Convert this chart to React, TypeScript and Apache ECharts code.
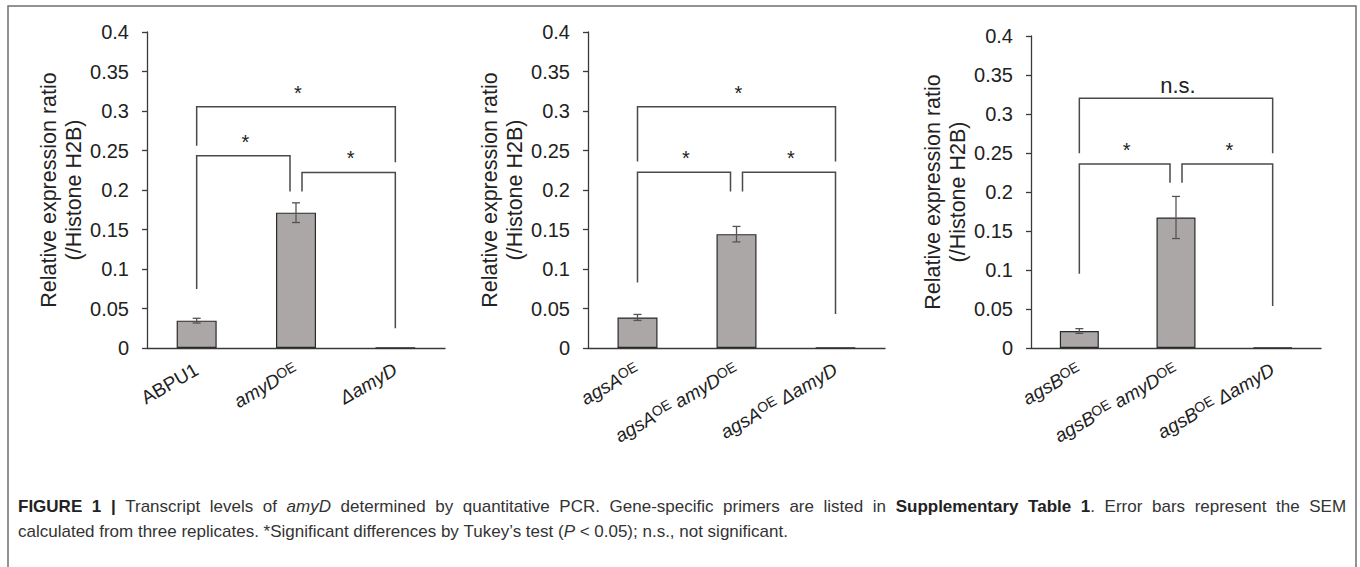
import React, { useEffect, useRef } from "react";
import * as echarts from "echarts";

// ---------- data ----------
const categoriesA = ["ABPU1", "amyD^OE", "ΔamyD"];
const categoriesB = ["agsA^OE", "agsA^OE amyD^OE", "agsA^OE ΔamyD"];
const categoriesC = ["agsB^OE", "agsB^OE amyD^OE", "agsB^OE ΔamyD"];

const valuesA = [0.0346, 0.1713, 0.0005];
const valuesB = [0.0387, 0.1441, 0.0005];
const valuesC = [0.0218, 0.1673, 0.0005];

const errorsA = [0.003, 0.0125, 0];
const errorsB = [0.0038, 0.0098, 0];
const errorsC = [0.003, 0.027, 0];

// brackets: [leftCategory, rightCategory, topValue, leftLegBottom, rightLegBottom]
const bracketsA = [
  [0, 2, 0.3055, 0.256, 0.235],
  [0, 1, 0.2434, 0.0747, 0.198],
  [1, 2, 0.2223, 0.198, 0.025],
];
const bracketLabelsA = ["*", "*", "*"];
const bracketsB = [
  [0, 2, 0.3055, 0.236, 0.236],
  [0, 1, 0.2225, 0.083, 0.198],
  [1, 2, 0.2225, 0.198, 0.043],
];
const bracketLabelsB = ["*", "*", "*"];
const bracketsC = [
  [0, 2, 0.3202, 0.2497, 0.2497],
  [0, 1, 0.236, 0.0952, 0.212],
  [1, 2, 0.236, 0.212, 0.054],
];
const bracketLabelsC = ["n.s.", "*", "*"];

const yTitle = "Relative expression ratio\n(/Histone H2B)";
const yMin = 0;
const yMax = 0.4;
const yStep = 0.05;

// caption: [style, text] pieces (b = bold, t = regular, it = italic)
const captionLine1 = [
  ["b", "FIGURE 1 |"],
  ["t", " Transcript levels of "],
  ["it", "amyD"],
  ["t", " determined by quantitative PCR. Gene-specific primers are listed in "],
  ["b", "Supplementary Table 1"],
  ["t", ". Error bars represent the SEM"],
];
const captionLine2 = [
  ["t", "calculated from three replicates. *Significant differences by Tukey\u2019s test ("],
  ["it", "P"],
  ["t", " < 0.05); n.s., not significant."],
];

// ---------- layout ----------
const FONT = '"Liberation Sans", Arial, Helvetica, sans-serif';
const AXIS_COLOR = "#3a3a3a";
const LINE_COLOR = "#4a4a4a";
const BAR_COLOR = "#aba7a6";
const CAP_SIZE = 17;

const panels = [
  { cats: categoriesA, vals: valuesA, errs: errorsA, br: bracketsA, brl: bracketLabelsA,
    grid: { left: 147, top: 32, width: 298, height: 316 }, barWidth: 40 },
  { cats: categoriesB, vals: valuesB, errs: errorsB, br: bracketsB, brl: bracketLabelsB,
    grid: { left: 588, top: 32, width: 297, height: 316 }, barWidth: 40 },
  { cats: categoriesC, vals: valuesC, errs: errorsC, br: bracketsC, brl: bracketLabelsC,
    grid: { left: 1031, top: 36, width: 290, height: 312 }, barWidth: 39 },
];

function catLabel(name: string): string {
  if (name === "ABPU1") return "{n|ABPU1}";
  return name
    .split(" ")
    .map((part) =>
      part.endsWith("^OE") ? `{i|${part.slice(0, -3)}}{s|OE}` : `{i|${part}}`
    )
    .join("{i| }");
}

// Build rich text; spaces become "sp" tokens (wider ones to justify a line)
function captionRich(parts: string[][]): string {
  let out = "";
  parts.forEach(([st, txt]) => {
    const words = txt.split(" ");
    words.forEach((w, idx) => {
      if (idx > 0) out += "{sp| }";
      if (w.length) out += `{${st}|${w}}`;
    });
  });
  return out;
}

export default function App() {
  const ref = useRef<HTMLDivElement>(null);

  useEffect(() => {
    if (!ref.current) return;
    const chart = echarts.init(ref.current, undefined, { renderer: "svg" });

    const grids: any[] = [];
    const xAxes: any[] = [];
    const yAxes: any[] = [];
    const series: any[] = [];

    panels.forEach((p, k) => {
      grids.push({ ...p.grid, containLabel: false, outerBoundsMode: "none" });
      xAxes.push({
        type: "category",
        gridIndex: k,
        data: p.cats,
        boundaryGap: true,
        axisLine: { show: true, lineStyle: { color: AXIS_COLOR, width: 1.3 } },
        axisTick: { show: false },
        splitLine: { show: false },
        axisLabel: {
          interval: 0,
          rotate: 30,
          margin: 20,
          formatter: (v: string) => catLabel(v),
          rich: {
            n: { fontFamily: FONT, fontSize: 19, color: "#222" },
            i: { fontFamily: FONT, fontSize: 19, fontStyle: "italic", color: "#222" },
            s: { fontFamily: FONT, fontSize: 14, color: "#222", verticalAlign: "top", padding: [0, 0, 6, 0] },
          },
        },
      });
      yAxes.push({
        type: "value",
        gridIndex: k,
        min: yMin,
        max: yMax,
        interval: yStep,
        name: yTitle,
        nameLocation: "middle",
        nameRotate: 90,
        nameGap: 54,
        nameTextStyle: { fontFamily: FONT, fontSize: 21.5, color: "#222", lineHeight: 25 },
        axisLine: { show: true, lineStyle: { color: AXIS_COLOR, width: 1.3 } },
        axisTick: { show: true, length: 5, lineStyle: { color: AXIS_COLOR, width: 1.3 } },
        splitLine: { show: false },
        axisLabel: {
          margin: 18,
          fontFamily: FONT,
          fontSize: 20,
          color: "#222",
          formatter: (v: number) => (v === 0 ? "0" : String(Math.round(v * 100) / 100)),
        },
      });
      series.push({
        type: "bar",
        xAxisIndex: k,
        yAxisIndex: k,
        data: p.vals,
        barWidth: p.barWidth,
        itemStyle: { color: BAR_COLOR, borderColor: "#2a2a2a", borderWidth: 1.2 },
        silent: true,
      });
      series.push({
        type: "custom",
        xAxisIndex: k,
        yAxisIndex: k,
        silent: true,
        clip: false,
        z: 5,
        data: p.vals.map((v, i) => [i, v, p.errs[i]]),
        renderItem: (params: any, api: any) => {
          const x = api.value(0);
          const v = api.value(1);
          const e = api.value(2);
          if (!e) return { type: "group", children: [] };
          const top = api.coord([x, v + e]);
          const bot = api.coord([x, v - e]);
          const cap = 4;
          const st = { stroke: "#555", lineWidth: 1.3 };
          return {
            type: "group",
            children: [
              { type: "line", shape: { x1: top[0], y1: top[1], x2: bot[0], y2: bot[1] }, style: st },
              { type: "line", shape: { x1: top[0] - cap, y1: top[1], x2: top[0] + cap, y2: top[1] }, style: st },
              { type: "line", shape: { x1: bot[0] - cap, y1: bot[1], x2: bot[0] + cap, y2: bot[1] }, style: st },
            ],
          };
        },
      });
      const nCats = p.cats.length;
      series.push({
        type: "custom",
        xAxisIndex: k,
        yAxisIndex: k,
        silent: true,
        clip: false,
        z: 6,
        data: p.br,
        renderItem: (params: any, api: any) => {
          const l = api.value(0);
          const r = api.value(1);
          const t = api.value(2);
          const lb = api.value(3);
          const rb = api.value(4);
          const gap = 6;
          const lx = api.coord([l, t])[0] + (l > 0 && l < nCats - 1 ? gap : 0);
          const rx = api.coord([r, t])[0] - (r > 0 && r < nCats - 1 ? gap : 0);
          const ty = api.coord([l, t])[1];
          const lby = api.coord([l, lb])[1];
          const rby = api.coord([r, rb])[1];
          const label = p.brl[params.dataIndex];
          const isStar = label === "*";
          return {
            type: "group",
            children: [
              {
                type: "polyline",
                shape: { points: [[lx, lby], [lx, ty], [rx, ty], [rx, rby]] },
                style: { stroke: LINE_COLOR, lineWidth: 1.5, fill: "none" },
              },
              {
                type: "text",
                x: (lx + rx) / 2 + 2,
                y: ty - (isStar ? 14 : 13),
                style: {
                  text: label,
                  fill: "#222",
                  fontFamily: FONT,
                  fontSize: isStar ? 20 : 22,
                  align: "center",
                  textAlign: "center",
                  verticalAlign: "middle",
                  textVerticalAlign: "middle",
                },
              },
            ],
          };
        },
      });
    });

    const capRich = (spaceWidth: number) => ({
      b: { fontFamily: FONT, fontSize: CAP_SIZE, fontWeight: "bold", fill: "#222" },
      t: { fontFamily: FONT, fontSize: CAP_SIZE, fill: "#333" },
      it: { fontFamily: FONT, fontSize: CAP_SIZE, fontStyle: "italic", fill: "#333" },
      sp: { fontFamily: FONT, fontSize: CAP_SIZE, fill: "#333", width: spaceWidth },
    });

    const option: any = {
      animation: false,
      backgroundColor: "#ffffff",
      grid: grids,
      xAxis: xAxes,
      yAxis: yAxes,
      series,
      graphic: [
        {
          type: "rect",
          shape: { x: 8, y: 6, width: 1348, height: 620 },
          style: { fill: "none", stroke: "#6f6f6f", lineWidth: 1.5 },
          silent: true,
        },
        {
          type: "text",
          x: 18,
          y: 506,
          style: {
            text: captionRich(captionLine1),
            verticalAlign: "middle",
            textVerticalAlign: "middle",
            rich: capRich(9.6),
          },
          silent: true,
        },
        {
          type: "text",
          x: 18,
          y: 531,
          style: {
            text: captionRich(captionLine2),
            verticalAlign: "middle",
            textVerticalAlign: "middle",
            rich: capRich(4.7),
          },
          silent: true,
        },
      ],
    };

    chart.setOption(option);
    return () => chart.dispose();
  }, []);

  return (
    <div
      ref={ref}
      style={{ position: "fixed", left: 0, top: 0, width: 1360, height: 567, background: "#fff" }}
    />
  );
}
